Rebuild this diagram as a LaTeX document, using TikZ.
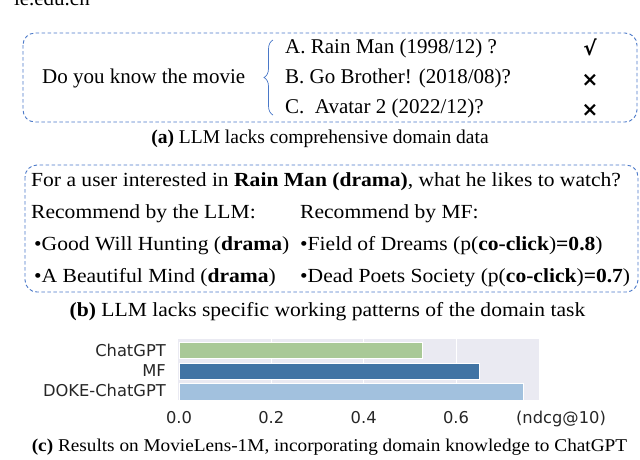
\documentclass[tikz,border=0pt]{standalone}
\usepackage{fontspec}
\setmainfont{Liberation Serif}
\newfontfamily\wideserif[FakeStretch=1.078]{Liberation Serif}
\newfontfamily\widecap[FakeStretch=1.07]{Liberation Serif}
\newfontfamily\chartfont{DejaVu Sans}
\newfontfamily\symfont{DejaVu Sans}
\usetikzlibrary{decorations.pathreplacing}
\definecolor{boxblue}{HTML}{4A78C8}
\definecolor{plotbg}{HTML}{EAEAF2}
\definecolor{barA}{HTML}{A9C997}
\definecolor{barB}{HTML}{4174A4}
\definecolor{barC}{HTML}{A2C1DE}
\tikzset{
  fa/.style={font=\fontsize{21}{25}\selectfont, inner sep=0pt},
  fb/.style={font=\wideserif\fontsize{20}{24}\selectfont, inner sep=0pt},
  capt/.style={font=\fontsize{19.5}{23}\selectfont, inner sep=0pt},
  captb/.style={font=\wideserif\fontsize{20}{24}\selectfont, inner sep=0pt},
  captc/.style={font=\widecap\fontsize{18}{21}\selectfont, inner sep=0pt},
  dbox/.style={draw=boxblue, line width=0.9pt, dash pattern=on 3.5pt off 2.5pt, rounded corners=12pt},
  sym/.style={font=\symfont\bfseries\fontsize{20}{24}\selectfont, inner sep=0pt},
  clab/.style={font=\chartfont\fontsize{16.3}{19}\selectfont, inner sep=0pt, text=black!85},
  bar/.style={draw=white, line width=0.8pt},
}
\begin{document}
\begin{tikzpicture}[x=1pt,y=-1pt]
\useasboundingbox (0,0) rectangle (640,459);

% header text, cut off at the top edge as in the reference
\node[fa, anchor=base east] (url) at (90,5) {ie.edu.cn};

% ---------- (a) ----------
\draw[dbox] (23,33) rectangle (637,122);
\node[fa, anchor=base west] (ask) at (42,83.5) {Do you know the movie};
\draw[boxblue, line width=0.7pt, decorate, decoration={brace, amplitude=9pt}] (273,115) -- (273,40);
\node[fa, anchor=base west] (qa) at (285,53.5) {A. Rain Man (1998/12) ?};
\node[fa, anchor=base west] (qb) at (285,83.5) {B. Go Brother! (2018/08)?};
\node[fa, anchor=base west] (qc) at (285,113.5) {C.\ \ Avatar 2 (2022/12)?};
\node[sym] (ma) at (590,47) {√};
\node[sym] (mb) at (590,80) {×};
\node[sym] (mc) at (590,110) {×};
\node[capt, anchor=base] (capa) at (320,143) {\textbf{(a)} LLM lacks comprehensive domain data};

% ---------- (b) ----------
\draw[dbox] (25,165) rectangle (638,292);
\node[fb, anchor=base west] (l1) at (31,186) {For a user interested in \textbf{Rain Man (drama)}, what he likes to watch?};
\node[fb, anchor=base west] (l2a) at (31,218) {Recommend by the LLM:};
\node[fb, anchor=base west] (l2b) at (300,218) {Recommend by MF:};
\node[fb, anchor=base west] (l3a) at (34,250.5) {•Good Will Hunting (\textbf{drama})};
\node[fb, anchor=base west] (l3b) at (300,250.5) {•Field of Dreams (p(\textbf{co-click})\textbf{=0.8})};
\node[fb, anchor=base west] (l4a) at (34,282) {•A Beautiful Mind (\textbf{drama})};
\node[fb, anchor=base west] (l4b) at (300,282) {•Dead Poets Society (p(\textbf{co-click})\textbf{=0.7})};
\node[captb, anchor=base] (capb) at (327.5,316.5) {\textbf{(b)} LLM lacks specific working patterns of the domain task};

% ---------- (c) chart ----------
\fill[plotbg] (178,339) rectangle (539,400);
\foreach \v in {0.2,0.4,0.6} {
  \draw[white, line width=0.9pt] ({179+461.7*\v},339) -- ({179+461.7*\v},400);
}
\draw[bar, fill=barA] (179,342) rectangle ({179+461.7*0.528},358);
\draw[bar, fill=barB] (179,363) rectangle ({179+461.7*0.65},379);
\draw[bar, fill=barC] (179,383) rectangle ({179+461.7*0.745},400);
\node[clab, anchor=base east] (yA) at (166,356) {ChatGPT};
\node[clab, anchor=base east] (yB) at (166,376.7) {MF};
\node[clab, anchor=base east] (yC) at (166,396.7) {DOKE-ChatGPT};
\foreach \v/\t in {0.0/0.0,0.2/0.2,0.4/0.4,0.6/0.6} {
  \node[clab, anchor=base] (tick\t) at ({179+461.7*\v},423.3) {\t};
}
\node[clab, anchor=base] (unit) at (561,423.3) {(ndcg@10)};
\node[captc, anchor=base] (capc) at (329.5,451.7) {\textbf{(c)} Results on MovieLens-1M, incorporating domain knowledge to ChatGPT};
\end{tikzpicture}
\end{document}
